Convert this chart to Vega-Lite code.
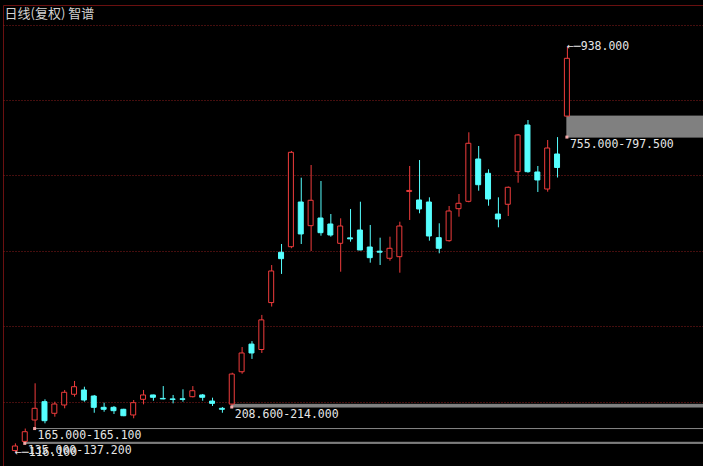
{
  "$schema": "https://vega.github.io/schema/vega-lite/v6.json",
  "width": 700,
  "height": 461,
  "autosize": "none",
  "padding": {"left": 3, "top": 5, "right": 0, "bottom": 0},
  "background": "#000000",
  "view": {"stroke": "#6a1010", "strokeWidth": 1, "fill": "#000000"},
  "title": {
    "text": "日线(复权) 智谱",
    "anchor": "start",
    "orient": "top",
    "offset": -16,
    "dx": 1.5,
    "font": "Noto Sans CJK SC",
    "fontSize": 13,
    "fontWeight": "normal",
    "color": "#d2d2d2"
  },
  "datasets": {
    "candles": [
      {"i": 1, "o": 120.5, "h": 135.0, "l": 116.1, "c": 129.7},
      {"i": 2, "o": 139.0, "h": 165.0, "l": 137.2, "c": 158.6},
      {"i": 3, "o": 182.3, "h": 256.6, "l": 165.1, "c": 206.0},
      {"i": 4, "o": 219.4, "h": 224.2, "l": 175.6, "c": 180.9},
      {"i": 5, "o": 195.9, "h": 219.4, "l": 189.0, "c": 214.7},
      {"i": 6, "o": 212.7, "h": 243.1, "l": 206.0, "c": 238.4},
      {"i": 7, "o": 234.4, "h": 261.3, "l": 229.5, "c": 249.7},
      {"i": 8, "o": 243.1, "h": 249.7, "l": 219.4, "c": 222.8},
      {"i": 9, "o": 230.9, "h": 233.0, "l": 197.0, "c": 208.0},
      {"i": 10, "o": 208.0, "h": 217.4, "l": 199.0, "c": 204.0},
      {"i": 11, "o": 208.0, "h": 210.7, "l": 194.5, "c": 201.2},
      {"i": 12, "o": 204.0, "h": 205.0, "l": 190.0, "c": 191.0},
      {"i": 13, "o": 192.5, "h": 222.8, "l": 185.8, "c": 217.4},
      {"i": 14, "o": 224.2, "h": 243.1, "l": 214.0, "c": 233.0},
      {"i": 15, "o": 233.0, "h": 233.5, "l": 221.4, "c": 228.3},
      {"i": 16, "o": 226.0, "h": 251.0, "l": 224.2, "c": 225.0},
      {"i": 17, "o": 225.0, "h": 233.0, "l": 216.0, "c": 224.0},
      {"i": 18, "o": 225.2, "h": 244.5, "l": 219.4, "c": 224.2},
      {"i": 19, "o": 229.5, "h": 251.0, "l": 228.0, "c": 241.6},
      {"i": 20, "o": 233.0, "h": 235.0, "l": 221.4, "c": 228.3},
      {"i": 21, "o": 220.7, "h": 227.5, "l": 210.7, "c": 216.0},
      {"i": 22, "o": 206.0, "h": 208.6, "l": 197.0, "c": 204.0},
      {"i": 23, "o": 214.5, "h": 278.0, "l": 214.0, "c": 275.4},
      {"i": 24, "o": 280.0, "h": 330.0, "l": 276.0, "c": 318.0},
      {"i": 25, "o": 336.0, "h": 342.0, "l": 306.0, "c": 318.0},
      {"i": 26, "o": 325.0, "h": 395.0, "l": 318.0, "c": 385.0},
      {"i": 27, "o": 420.0, "h": 496.0, "l": 412.0, "c": 484.0},
      {"i": 28, "o": 521.8, "h": 538.6, "l": 478.0, "c": 508.9},
      {"i": 29, "o": 533.1, "h": 727.0, "l": 530.0, "c": 724.2},
      {"i": 30, "o": 623.6, "h": 672.8, "l": 538.6, "c": 558.9},
      {"i": 31, "o": 575.7, "h": 698.5, "l": 524.4, "c": 627.1},
      {"i": 32, "o": 591.2, "h": 666.1, "l": 555.4, "c": 561.5},
      {"i": 33, "o": 579.1, "h": 599.3, "l": 553.4, "c": 556.8},
      {"i": 34, "o": 540.0, "h": 590.6, "l": 482.5, "c": 575.0},
      {"i": 35, "o": 551.0, "h": 609.5, "l": 543.3, "c": 549.0},
      {"i": 36, "o": 566.9, "h": 624.2, "l": 526.0, "c": 526.5},
      {"i": 37, "o": 532.5, "h": 577.1, "l": 500.8, "c": 510.9},
      {"i": 38, "o": 524.0, "h": 551.4, "l": 496.1, "c": 522.0},
      {"i": 39, "o": 509.7, "h": 553.4, "l": 504.8, "c": 529.9},
      {"i": 40, "o": 512.9, "h": 583.7, "l": 480.5, "c": 575.0},
      {"i": 41, "o": 645.0, "h": 696.5, "l": 587.2, "c": 647.0},
      {"i": 42, "o": 627.7, "h": 708.6, "l": 600.8, "c": 609.5},
      {"i": 43, "o": 623.6, "h": 633.1, "l": 545.3, "c": 554.8},
      {"i": 44, "o": 551.4, "h": 580.5, "l": 519.8, "c": 529.9},
      {"i": 45, "o": 545.3, "h": 615.5, "l": 543.3, "c": 605.4},
      {"i": 46, "o": 610.1, "h": 639.8, "l": 593.9, "c": 621.0},
      {"i": 47, "o": 625.0, "h": 764.7, "l": 623.0, "c": 742.5},
      {"i": 48, "o": 710.7, "h": 737.0, "l": 646.5, "c": 658.6},
      {"i": 49, "o": 681.7, "h": 689.8, "l": 616.1, "c": 629.7},
      {"i": 50, "o": 599.3, "h": 633.1, "l": 572.4, "c": 589.2},
      {"i": 51, "o": 619.0, "h": 655.0, "l": 595.3, "c": 653.4},
      {"i": 52, "o": 685.0, "h": 761.0, "l": 662.7, "c": 759.3},
      {"i": 53, "o": 779.5, "h": 789.6, "l": 683.0, "c": 685.0},
      {"i": 54, "o": 684.4, "h": 696.5, "l": 643.9, "c": 668.2},
      {"i": 55, "o": 649.9, "h": 749.1, "l": 644.5, "c": 732.9},
      {"i": 56, "o": 720.8, "h": 755.0, "l": 673.2, "c": 693.5},
      {"i": 57, "o": 797.5, "h": 938.0, "l": 797.5, "c": 914.5}
    ],
    "gaps": [
      {"from": 2, "lo": 135.0, "hi": 137.2, "label": "135.000-137.200"},
      {"from": 3, "lo": 165.0, "hi": 165.1, "label": "165.000-165.100"},
      {"from": 23, "lo": 208.6, "hi": 214.0, "label": "208.600-214.000"},
      {"from": 57, "lo": 755.0, "hi": 797.5, "label": "755.000-797.500"}
    ],
    "extremes": [
      {"i": 57, "v": 938.0, "label": "←─938.000"},
      {"i": 1, "v": 116.1, "label": "←─116.100"}
    ]
  },
  "layer": [
    {
      "data": {"name": "gaps"},
      "mark": {"type": "rect", "fill": "#808080", "stroke": "#828282", "strokeWidth": 1},
      "encoding": {
        "x": {"field": "from", "type": "quantitative", "scale": {"domain": [0.3, 70.3], "nice": false, "zero": false}, "axis": null},
        "x2": {"value": "width"},
        "y": {
          "field": "lo",
          "type": "quantitative",
          "scale": {"domain": [89.2, 1022.4], "nice": false, "zero": false},
          "axis": {
            "values": [219.4, 371.6, 524.4, 677.3, 829.1, 981.9],
            "labels": false,
            "ticks": false,
            "domain": false,
            "title": null,
            "grid": true,
            "gridColor": "#8a1c1c",
            "gridDash": [1, 2],
            "gridWidth": 1
          }
        },
        "y2": {"field": "hi"}
      }
    },
    {
      "data": {"name": "candles"},
      "mark": {"type": "rule", "strokeWidth": 1, "xOffset": 0.5},
      "encoding": {
        "x": {"field": "i", "type": "quantitative"},
        "y": {"field": "l", "type": "quantitative"},
        "y2": {"field": "h"},
        "color": {"condition": {"test": "datum.c >= datum.o", "value": "#f03c3c"}, "value": "#55ffff"}
      }
    },
    {
      "data": {"name": "candles"},
      "mark": {"type": "bar", "size": 5, "strokeWidth": 1},
      "encoding": {
        "x": {"field": "i", "type": "quantitative"},
        "y": {"field": "o", "type": "quantitative"},
        "y2": {"field": "c"},
        "fill": {"condition": {"test": "datum.c >= datum.o", "value": "#000000"}, "value": "#55ffff"},
        "stroke": {"condition": {"test": "datum.c >= datum.o", "value": "#f03c3c"}, "value": "#55ffff"}
      }
    },
    {
      "data": {"name": "gaps"},
      "mark": {"type": "square", "size": 9, "filled": true, "color": "#f5a8a8", "opacity": 1},
      "encoding": {
        "x": {"field": "from", "type": "quantitative"},
        "y": {"field": "lo", "type": "quantitative"}
      }
    },
    {
      "data": {"name": "gaps"},
      "mark": {"type": "text", "align": "left", "baseline": "top", "dx": 3, "dy": 1.5, "font": "DejaVu Sans Mono", "fontSize": 11.5, "color": "#e6e6e6"},
      "encoding": {
        "x": {"field": "from", "type": "quantitative"},
        "y": {"field": "lo", "type": "quantitative"},
        "text": {"field": "label"}
      }
    },
    {
      "data": {"name": "extremes"},
      "mark": {"type": "text", "align": "left", "baseline": "middle", "dx": 0, "font": "DejaVu Sans Mono", "fontSize": 11.5, "color": "#e6e6e6"},
      "encoding": {
        "x": {"field": "i", "type": "quantitative"},
        "y": {"field": "v", "type": "quantitative"},
        "text": {"field": "label"}
      }
    }
  ]
}
